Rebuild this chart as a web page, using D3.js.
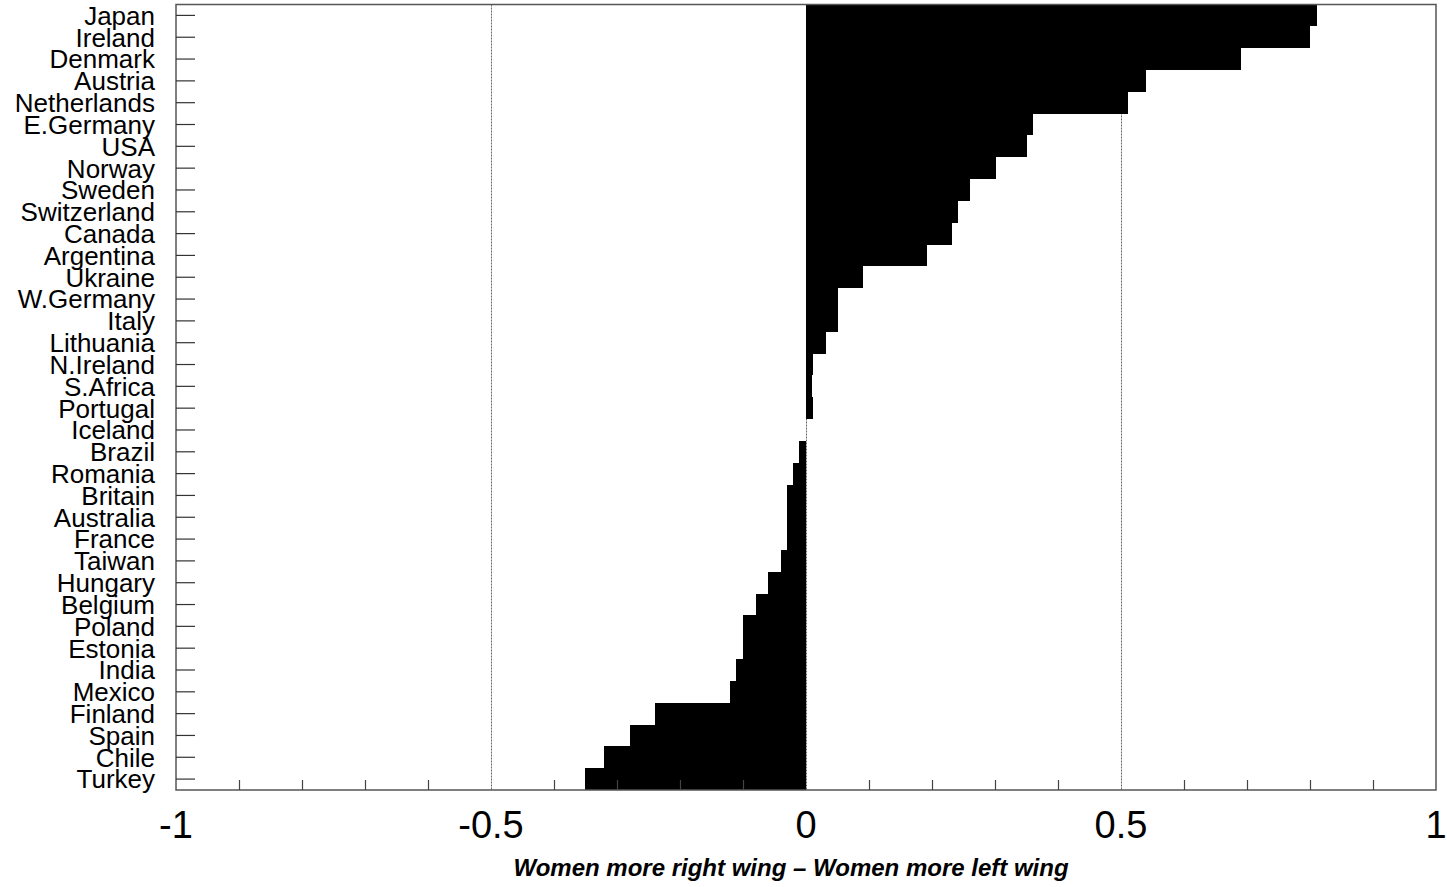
<!DOCTYPE html>
<html>
<head>
<meta charset="utf-8">
<script src="https://cdn.jsdelivr.net/npm/d3@7"></script>
<style>
    html, body { margin: 0; padding: 0; background: #fff; }
    svg { display: block; font-family: "Liberation Sans", Arial, sans-serif; }
</style>
</head>
<body>
<div id="chart"></div>
<script>
// Data
const countries = [
    "Japan", "Ireland", "Denmark", "Austria", "Netherlands", "E.Germany", "USA", "Norway",
    "Sweden", "Switzerland", "Canada", "Argentina", "Ukraine", "W.Germany", "Italy", "Lithuania",
    "N.Ireland", "S.Africa", "Portugal", "Iceland", "Brazil", "Romania", "Britain", "Australia",
    "France", "Taiwan", "Hungary", "Belgium", "Poland", "Estonia", "India", "Mexico",
    "Finland", "Spain", "Chile", "Turkey"
];
const gapValues = [
    0.811, 0.800, 0.691, 0.540, 0.511, 0.361, 0.351, 0.302,
    0.261, 0.241, 0.231, 0.192, 0.091, 0.051, 0.051, 0.031,
    0.011, 0.010, 0.011, 0.000, -0.011, -0.021, -0.030, -0.030,
    -0.030, -0.040, -0.060, -0.080, -0.100, -0.100, -0.111, -0.121,
    -0.240, -0.280, -0.321, -0.351
];
const xTickLabels = [-1, -0.5, 0, 0.5, 1];
const xMinorTicks = [-0.9, -0.8, -0.7, -0.6, -0.4, -0.3, -0.2, -0.1, 0.1, 0.2, 0.3, 0.4, 0.6, 0.7, 0.8, 0.9];
const gridValues = [-0.5, 0, 0.5];
const xTitle = "Women more right wing \u2013 Women more left wing";

// Layout
const WIDTH = 1447, HEIGHT = 887;
const margin = { top: 4.5, right: 11, bottom: 97, left: 176 };
const plotRight = WIDTH - margin.right;
const plotBottom = HEIGHT - margin.bottom;

const svg = d3.select("#chart").append("svg")
    .attr("width", WIDTH)
    .attr("height", HEIGHT);

const x = d3.scaleLinear().domain([-1, 1]).range([margin.left, plotRight]);
const y = d3.scaleBand().domain(countries).range([margin.top, plotBottom]).padding(0);

// Grid lines (dotted)
svg.append("g")
    .selectAll("line")
    .data(gridValues)
    .join("line")
    .attr("x1", d => Math.round(x(d)) + 0.5)
    .attr("x2", d => Math.round(x(d)) + 0.5)
    .attr("y1", margin.top)
    .attr("y2", plotBottom)
    .attr("stroke", "#666")
    .attr("stroke-width", 1)
    .attr("stroke-dasharray", "2,1");

// Bars - crisp edges so neighbouring rows join without seams
svg.append("g")
    .attr("shape-rendering", "crispEdges")
    .selectAll("rect")
    .data(countries.map((c, i) => ({ country: c, value: gapValues[i] })))
    .join("rect")
    .attr("x", d => x(Math.min(0, d.value)))
    .attr("width", d => Math.abs(x(d.value) - x(0)))
    .attr("y", d => y(d.country))
    .attr("height", y.bandwidth())
    .attr("fill", "#000");

// Frame
svg.append("rect")
    .attr("x", margin.left)
    .attr("y", margin.top)
    .attr("width", plotRight - margin.left)
    .attr("height", plotBottom - margin.top)
    .attr("fill", "none")
    .attr("stroke", "#555")
    .attr("stroke-width", 1.5);

// Y axis ticks (pointing inward) and labels
const yAxis = d3.axisRight(y).tickSize(19).tickPadding(0).tickFormat("");
const yAxisG = svg.append("g")
    .attr("transform", `translate(${margin.left},0)`)
    .call(yAxis);
yAxisG.select(".domain").remove();
yAxisG.selectAll(".tick line").attr("stroke", "#333").attr("stroke-width", 1.2);

svg.append("g")
    .selectAll("text")
    .data(countries)
    .join("text")
    .attr("x", 155)
    .attr("y", d => y(d) + y.bandwidth() / 2)
    .attr("dy", "0.36em")
    .attr("text-anchor", "end")
    .attr("font-size", 26)
    .attr("fill", "#000")
    .text(d => d);

// X axis minor ticks (pointing up, inside)
const xAxis = d3.axisTop(x).tickValues(xMinorTicks).tickSize(10).tickFormat("");
const xAxisG = svg.append("g")
    .attr("transform", `translate(0,${plotBottom})`)
    .call(xAxis);
xAxisG.select(".domain").remove();
xAxisG.selectAll(".tick line").attr("stroke", "#444").attr("stroke-width", 1.2);

// X tick labels
svg.append("g")
    .selectAll("text")
    .data(xTickLabels)
    .join("text")
    .attr("x", d => x(d))
    .attr("y", 838)
    .attr("text-anchor", "middle")
    .attr("font-size", 38)
    .attr("fill", "#000")
    .text(d => String(d));

// X title
svg.append("text")
    .attr("x", 791)
    .attr("y", 876)
    .attr("text-anchor", "middle")
    .attr("font-size", 24)
    .attr("font-weight", "bold")
    .attr("font-style", "italic")
    .attr("fill", "#000")
    .text(xTitle);
</script>
</body>
</html>
